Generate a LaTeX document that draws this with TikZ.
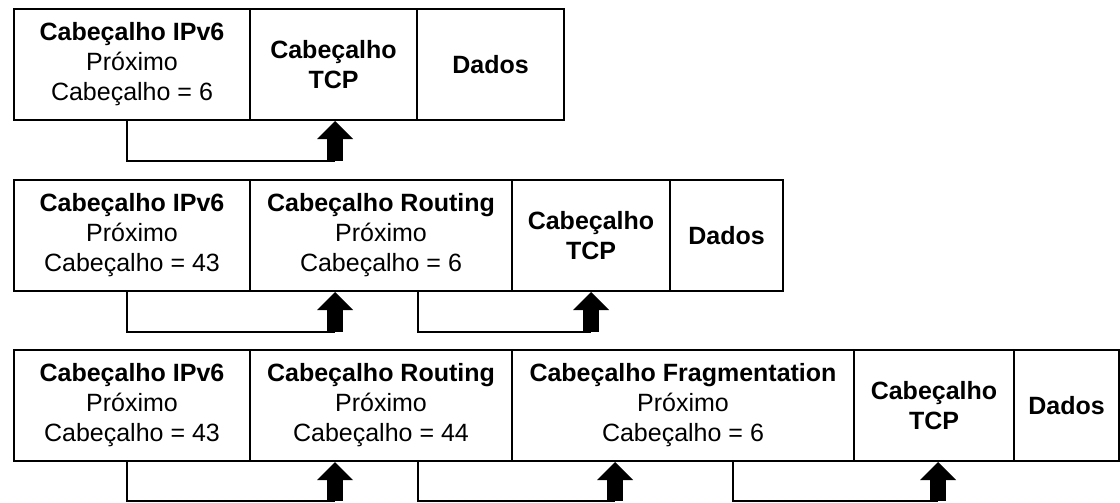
\documentclass[tikz,border=0pt]{standalone}
\usepackage{fontspec}
\setmainfont{Liberation Sans}
\usetikzlibrary{arrows.meta}

\begin{document}
\begin{tikzpicture}[x=1pt,y=-1pt]
	\tikzstyle{every node}+=[inner sep=0pt]
	\tikzstyle{hdr}=[draw=black,line width=2pt,anchor=north west,minimum height=111pt,align=center,font=\fontsize{25}{30}\selectfont]
	\tikzstyle{link}=[black,line width=2pt]
	\tikzstyle{fat}=[black,line width=16pt,-{Triangle[width=36pt,length=18pt,line width=0pt]}]
	\useasboundingbox (0,0) rectangle (1120,503);
	% pacote 1
	\node [hdr,minimum width=236pt] (ip1) at (13,8) {\textbf{Cabeçalho IPv6}\\Próximo\\Cabeçalho = 6};
	\node [hdr,minimum width=167pt] (tcp1) at (249,8) {\textbf{Cabeçalho}\\\textbf{TCP}};
	\node [hdr,minimum width=147pt] (dat1) at (416,8) {\textbf{Dados}};
	\coordinate (f1) at (335,161);
	\draw [link] ([xshift=114pt]ip1.south west) |- (f1);
	\draw [fat] (f1) -- (f1 |- tcp1.south);
	% pacote 2
	\node [hdr,minimum width=236pt] (ip2) at (13,179) {\textbf{Cabeçalho IPv6}\\Próximo\\Cabeçalho = 43};
	\node [hdr,minimum width=262pt] (rt2) at (249,179) {\textbf{Cabeçalho Routing}\\Próximo\\Cabeçalho = 6};
	\node [hdr,minimum width=158pt] (tcp2) at (511,179) {\textbf{Cabeçalho}\\\textbf{TCP}};
	\node [hdr,minimum width=113pt] (dat2) at (669,179) {\textbf{Dados}};
	\coordinate (f2) at (335,332);
	\coordinate (f3) at (591,332);
	\draw [link] ([xshift=114pt]ip2.south west) |- (f2);
	\draw [fat] (f2) -- (f2 |- rt2.south);
	\draw [link] ([xshift=169pt]rt2.south west) |- (f3);
	\draw [fat] (f3) -- (f3 |- tcp2.south);
	% pacote 3
	\node [hdr,minimum width=236pt] (ip3) at (13,349) {\textbf{Cabeçalho IPv6}\\Próximo\\Cabeçalho = 43};
	\node [hdr,minimum width=262pt] (rt3) at (249,349) {\textbf{Cabeçalho Routing}\\Próximo\\Cabeçalho = 44};
	\node [hdr,minimum width=342pt] (fr3) at (511,349) {\textbf{Cabeçalho Fragmentation}\\Próximo\\Cabeçalho = 6};
	\node [hdr,minimum width=160pt] (tcp3) at (853,349) {\textbf{Cabeçalho}\\\textbf{TCP}};
	\node [hdr,minimum width=105pt] (dat3) at (1013,349) {\textbf{Dados}};
	\coordinate (f4) at (335,501);
	\coordinate (f5) at (615,501);
	\coordinate (f6) at (938,501);
	\draw [link] ([xshift=114pt]ip3.south west) |- (f4);
	\draw [fat] (f4) -- (f4 |- rt3.south);
	\draw [link] ([xshift=169pt]rt3.south west) |- (f5);
	\draw [fat] (f5) -- (f5 |- fr3.south);
	\draw [link] ([xshift=222pt]fr3.south west) |- (f6);
	\draw [fat] (f6) -- (f6 |- tcp3.south);
\end{tikzpicture}
\end{document}
